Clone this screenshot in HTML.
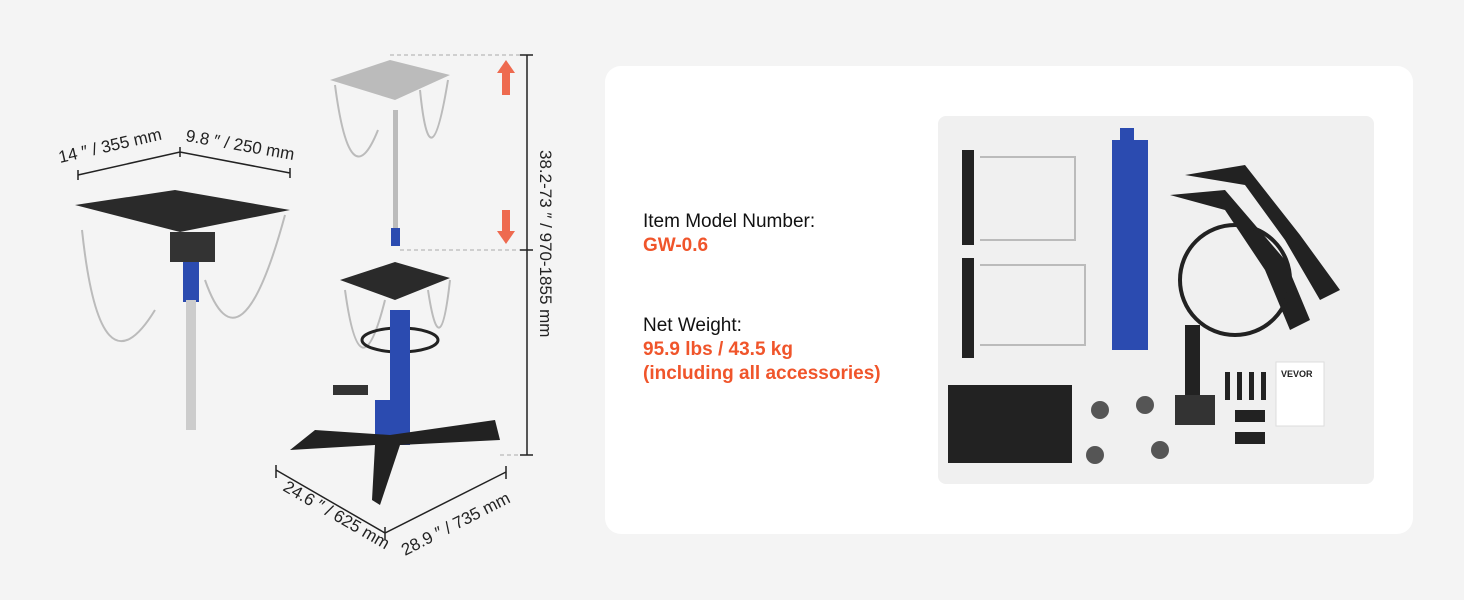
<!DOCTYPE html>
<html><head><style>
body{margin:0;width:1464px;height:600px;background:#f4f4f4;position:relative;overflow:hidden;font-family:"Liberation Sans",sans-serif}
.card{position:absolute;left:605px;top:66px;width:808px;height:468px;background:#fff;border-radius:16px}
.panel{position:absolute;left:938px;top:116px;width:436px;height:368px;background:#f0f0f0;border-radius:8px}
.t{position:absolute;left:643px;font-size:19px;color:#111;line-height:24px}
.o{color:#f0552b;font-weight:bold}
</style></head><body>
<div class="card"></div>
<div class="panel"></div>
<div class="t" style="top:210px">Item Model Number:<br><span class="o">GW-0.6</span></div>
<div class="t" style="top:314px">Net Weight:<br><span class="o">95.9 lbs / 43.5 kg<br>(including all accessories)</span></div>
<svg style="position:absolute;left:0;top:0" width="1464" height="600" font-family="Liberation Sans" font-size="17" fill="#222">
<g stroke="#222" stroke-width="1.5" fill="none">
<path d="M78 175 L180 152 L290 173 M78 170 V180 M180 147 V157 M290 168 V178"/>
<path d="M527 55 V455 M520 55 H533 M520 250 H533 M520 455 H533"/>
<path d="M276 470 L385 533 L506 472 M276 465 V478 M385 527 V540 M506 466 V479"/>
</g>
<g stroke="#aaa" stroke-dasharray="4 3"><path d="M390 55 H520 M400 250 H520 M500 455 H520"/></g>
<text x="60" y="163" transform="rotate(-13 60 163)">14 ″ / 355 mm</text>
<text x="185" y="141" transform="rotate(10 185 141)">9.8 ″ / 250 mm</text>
<text x="540" y="150" transform="rotate(90 540 150)">38.2-73 ″ / 970-1855 mm</text>
<text x="282" y="490" transform="rotate(30 282 490)">24.6 ″ / 625 mm</text>
<text x="405" y="556" transform="rotate(-27 405 556)">28.9 ″ / 735 mm</text>
<path d="M506 60 L497 73 H502 V95 H510 V73 H515Z" fill="#ee6a4f"/>
<path d="M506 244 L497 231 H502 V210 H510 V231 H515Z" fill="#ee6a4f"/>
<path d="M75 205 L175 190 L290 210 L180 232 Z" fill="#2a2a2a"/>
<rect x="170" y="232" width="45" height="30" fill="#333"/>
<rect x="183" y="262" width="16" height="40" fill="#2b4bb0"/>
<rect x="186" y="300" width="10" height="130" fill="#ccc"/>
<g stroke="#bbb" stroke-width="2" fill="none"><path d="M82 230 Q100 400 155 310 M205 280 Q240 380 285 215 M335 85 Q350 200 378 130 M420 90 Q430 190 448 80 M345 290 Q360 400 385 300 M428 290 Q440 370 450 280"/></g>
<path d="M330 80 L390 60 L450 75 L395 100 Z" fill="#bbb"/>
<rect x="393" y="110" width="5" height="130" fill="#bbb"/>
<rect x="391" y="228" width="9" height="18" fill="#2b4bb0"/>
<path d="M340 280 L395 262 L450 278 L395 300 Z" fill="#2a2a2a"/>
<ellipse cx="400" cy="340" rx="38" ry="12" fill="none" stroke="#222" stroke-width="3"/>
<rect x="390" y="310" width="20" height="135" fill="#2b4bb0"/>
<rect x="375" y="400" width="20" height="45" fill="#2b4bb0"/>
<path d="M315 430 L390 435 L495 420 L500 440 L400 445 L380 505 L372 500 L375 445 L290 450 Z" fill="#222"/>
<rect x="333" y="385" width="35" height="10" fill="#333"/>
<rect x="962" y="150" width="12" height="95" fill="#222"/><rect x="962" y="258" width="12" height="100" fill="#222"/>
<g stroke="#bbb" stroke-width="2" fill="none"><path d="M980 157 H1075 V240 H980 M980 265 H1085 V345 H980"/></g>
<rect x="1112" y="140" width="36" height="210" fill="#2b4bb0"/>
<rect x="1120" y="128" width="14" height="20" fill="#2b4bb0"/>
<g fill="#222"><path d="M1185 175 L1245 165 L1300 235 L1340 290 L1320 300 L1285 240 L1245 185 Z"/><path d="M1170 195 L1225 190 L1285 260 L1310 320 L1290 330 L1265 270 L1225 210 Z"/></g>
<circle cx="1235" cy="280" r="55" fill="none" stroke="#222" stroke-width="4"/>
<rect x="948" y="385" width="124" height="78" fill="#222"/>
<rect x="1185" y="325" width="15" height="70" fill="#222"/><rect x="1175" y="395" width="40" height="30" fill="#333"/>
<g fill="#555"><circle cx="1100" cy="410" r="9"/><circle cx="1145" cy="405" r="9"/><circle cx="1095" cy="455" r="9"/><circle cx="1160" cy="450" r="9"/></g>
<g fill="#222"><rect x="1225" y="372" width="5" height="28"/><rect x="1237" y="372" width="5" height="28"/><rect x="1249" y="372" width="5" height="28"/><rect x="1261" y="372" width="5" height="28"/><rect x="1235" y="410" width="30" height="12"/><rect x="1235" y="432" width="30" height="12"/></g>
<rect x="1276" y="362" width="48" height="64" fill="#fff" stroke="#ddd"/>
<text x="1281" y="377" font-size="9" font-weight="bold">VEVOR</text>
</svg>
</body></html>
